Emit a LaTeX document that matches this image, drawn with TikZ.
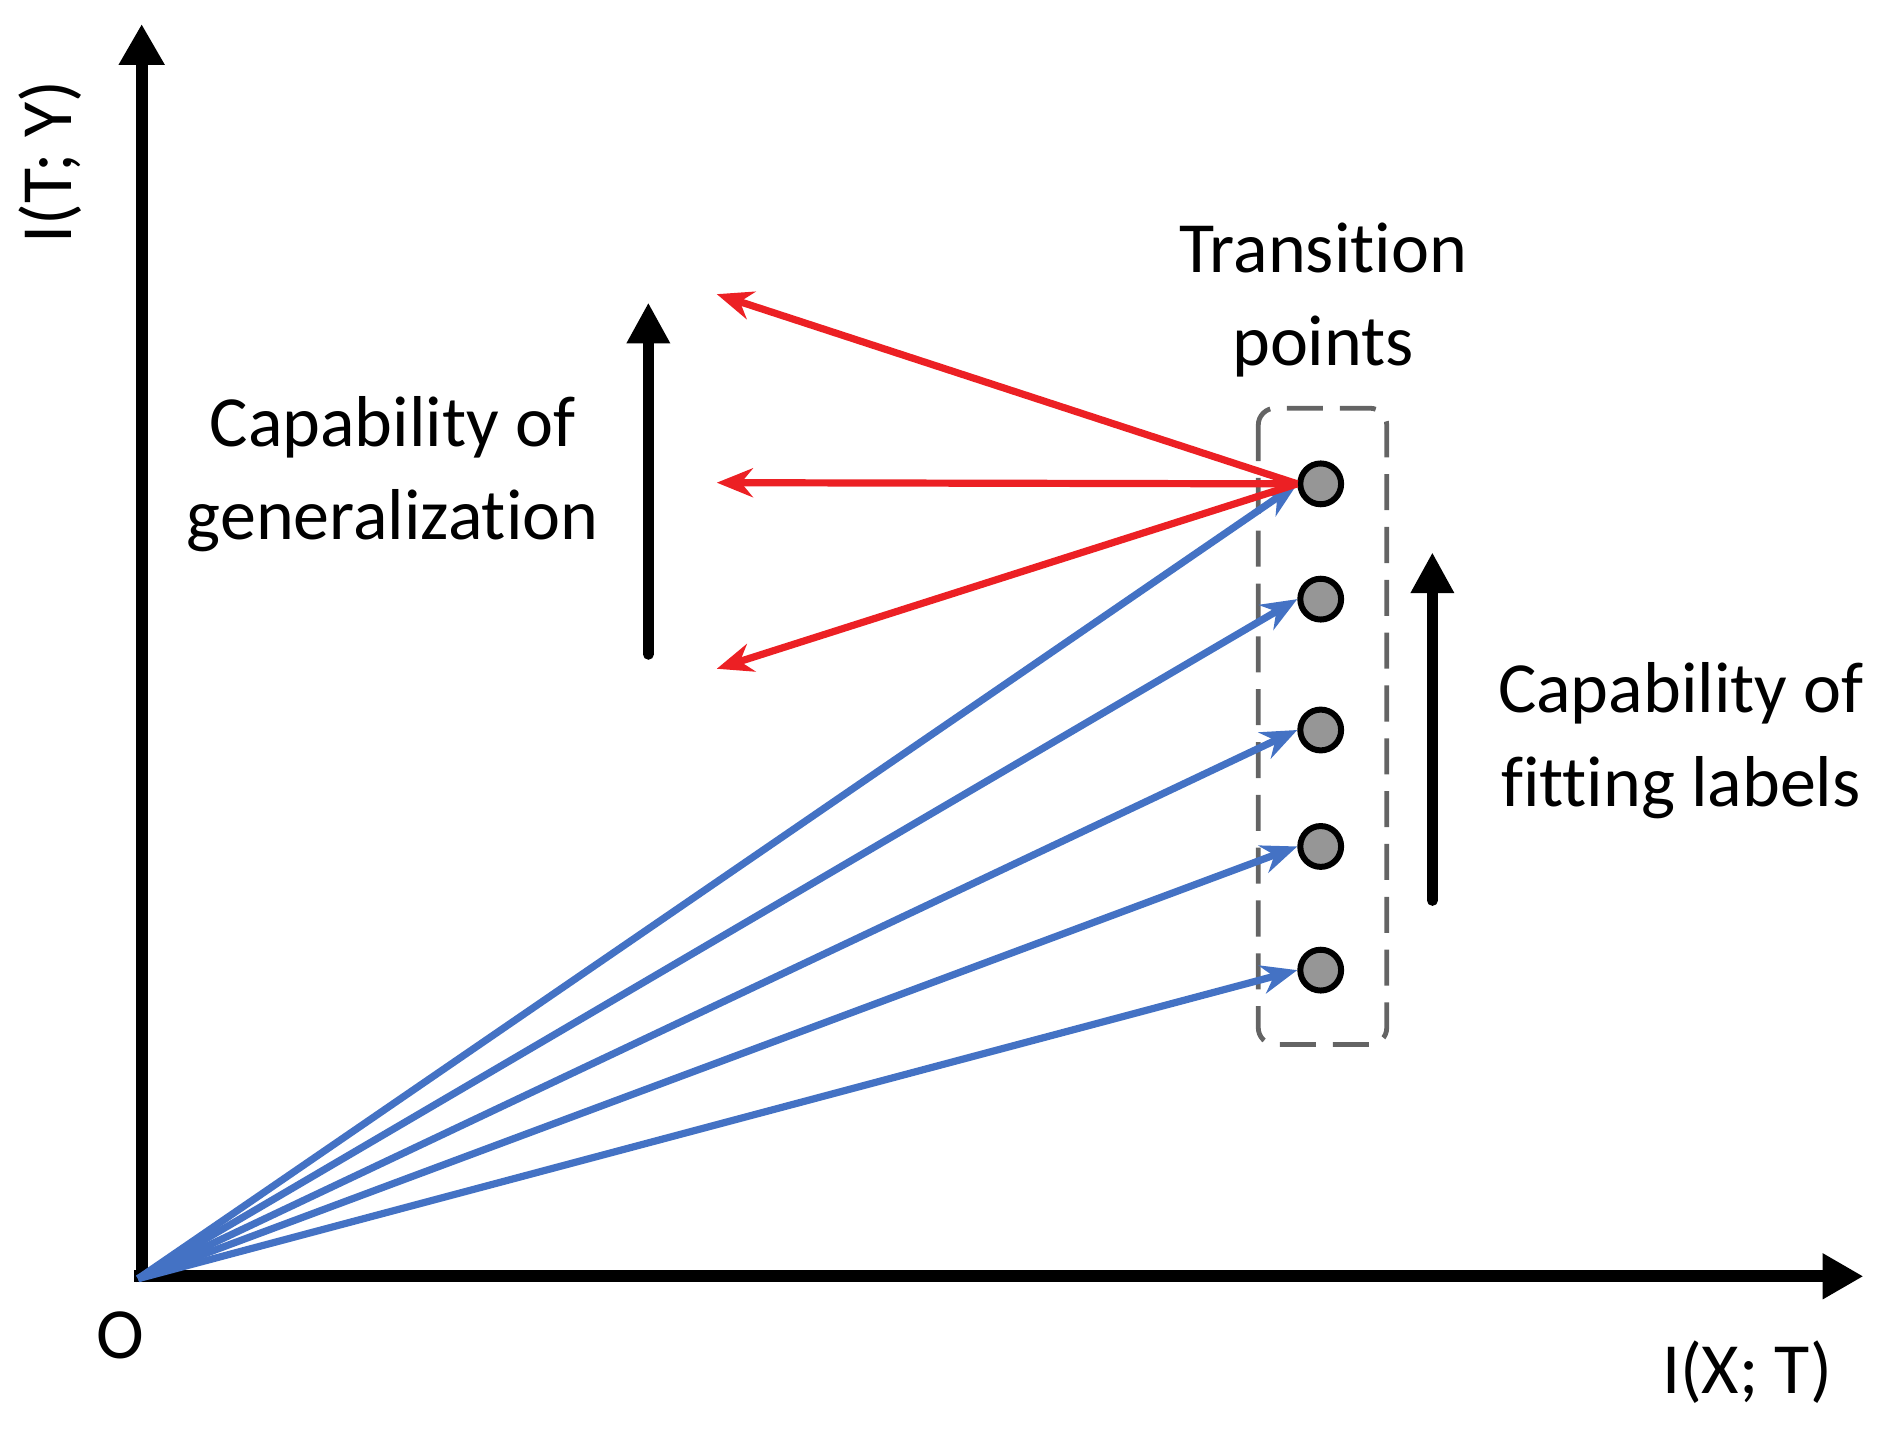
\documentclass[tikz,border=0pt]{standalone}
\usepackage{fontspec}
\setmainfont{Carlito}[Ligatures={NoCommon}]
\usetikzlibrary{arrows.meta}
\begin{document}
\begin{tikzpicture}[x=1pt,y=-1pt,
  axis/.style={line width=10pt,-{Triangle[length=34pt,width=36pt]}},
  blk/.style={line width=9pt,line cap=round,-{Triangle[length=34pt,width=34pt]}},
  blue/.style={draw={rgb,255:red,68;green,114;blue,196},line width=6pt,-{Stealth[length=30pt,width=24pt]}},
  red/.style={draw={rgb,255:red,236;green,32;blue,36},line width=6pt,-{Stealth[length=30pt,width=24pt]}},
  dot/.style={circle,draw=black,line width=5pt,fill={rgb,255:red,150;green,150;blue,150},minimum size=34pt,inner sep=0pt},
  lbl/.style={font=\fontsize{60}{78}\selectfont,align=center}]
\useasboundingbox (0,0) rectangle (1570,1203);
\coordinate (O) at (115,1065);
\coordinate (ytip) at (118,20);
\coordinate (xtip) at (1552,1063);
\draw[axis] (118,1068) -- (ytip);
\draw[axis] (112,1063) -- (xtip);
\node[lbl] (o) at (100,1112) {O};
\node[lbl,rotate=90] (yl) at (42,135) {I(T; Y)};
\node[lbl] (xl) at (1455,1143) {I(X; T)};
\draw[dashed,line width=4pt,draw={rgb,255:red,100;green,100;blue,100},dash pattern=on 30pt off 14pt,rounded corners=14pt] (1048,340) rectangle (1155,870);
\node[dot] (d1) at (1100,403) {};
\node[dot] (d2) at (1100,499) {};
\node[dot] (d3) at (1100,608) {};
\node[dot] (d4) at (1100,705) {};
\node[dot] (d5) at (1100,808) {};
\foreach \d in {d1,d2,d3,d4,d5} \draw[blue] (O) -- (\d.west);
\coordinate (r1) at (597,245);
\coordinate (r2) at (597,402);
\coordinate (r3) at (597,557);
\draw[red] (d1.west) -- (r1);
\draw[red] (d1.west) -- (r2);
\draw[red] (d1.west) -- (r3);
\coordinate (a1) at (540,545); \coordinate (a1t) at (540,252);
\draw[blk] (a1) -- (a1t);
\coordinate (a2) at (1193,750); \coordinate (a2t) at (1193,460);
\draw[blk] (a2) -- (a2t);
\node[lbl] (gen) at (327,395) {Capability of\\generalization};
\node[lbl] (tp) at (1102,250) {Transition\\points};
\node[lbl] (fit) at (1400,617) {Capability of\\fitting labels};
\end{tikzpicture}
\end{document}
